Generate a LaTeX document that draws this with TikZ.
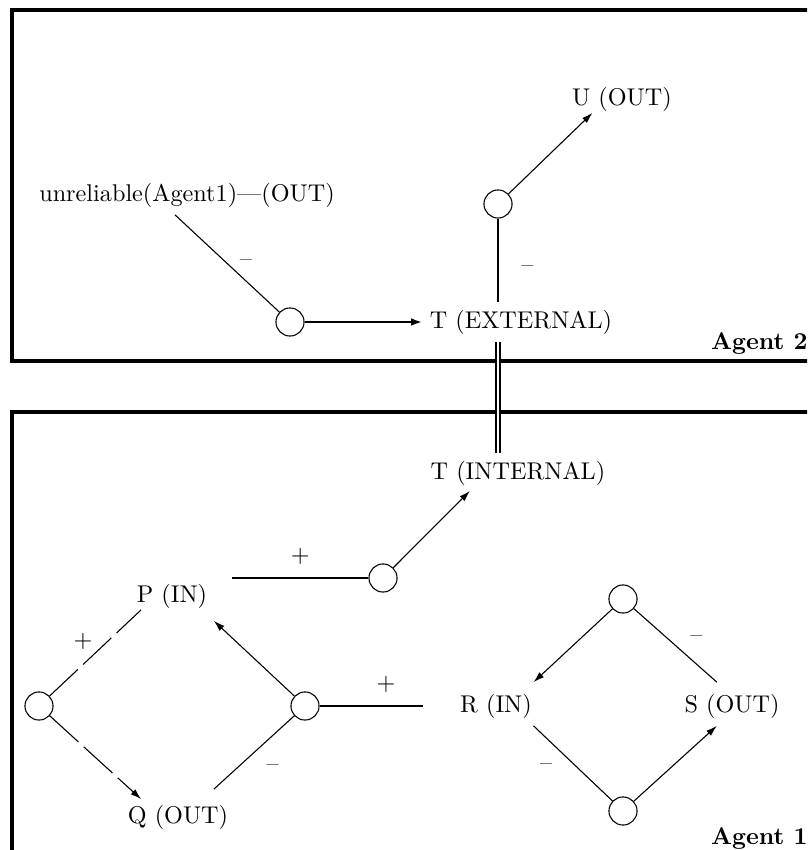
\documentclass[tikz,border=0pt]{standalone}
\usetikzlibrary{calc,arrows.meta}
\begin{document}
\begin{tikzpicture}[x=0.413pt,y=-0.413pt]
  \tikzstyle{state}=[draw,circle,minimum size=11.6pt,inner sep=0pt,line width=0.45pt];
  \tikzstyle{literal}=[inner sep=3pt];
  \tikzstyle{agent}=[font=\bfseries,anchor=south east,inner sep=0pt];
  \tikzstyle{sign}=[inner sep=1pt];
  \tikzstyle{agentbox}=[line width=2pt];
  \tikzstyle{link}=[line width=0.45pt,>={Latex[length=4.5pt,width=2.8pt]}];
  \tikzstyle{strong}=[line width=1.2pt,>={Latex[length=4.5pt,width=3.2pt]}];
  \tikzstyle{broken}=[line width=0.45pt,dash pattern=on 16pt off 3pt,>={Latex[length=4.5pt,width=2.8pt]}];
  \tikzstyle{bridge}=[double,double distance=1.1pt,line width=0.5pt];

  \useasboundingbox (0,0) rectangle (807,850);
  \clip (0,0) rectangle (807,850);

  % agents
  \draw[agentbox] (12,10) rectangle (840,361);
  \draw[agentbox] (12,412) rectangle (840,900);
  \node[agent] (ag2) at (808,355) {Agent 2};
  \node[agent] (ag1) at (808,850) {Agent 1};

  % Agent 2
  \node[literal] (unrel) at (187,195) {unreliable(Agent1)---(OUT)};
  \node[state] (c1) at (290,322) {};
  \node[literal] (tex) at (521,322) {T (EXTERNAL)};
  \node[state] (c2) at (498,204) {};
  \node[literal] (u) at (622,99) {U (OUT)};

  % Agent 1
  \node[literal] (tin) at (518,473) {T (INTERNAL)};
  \node[state] (c3) at (383,578) {};
  \coordinate (c3in) at (232,578);
  \node[literal] (p) at (172,596) {P (IN)};
  \node[literal] (q) at (178,817) {Q (OUT)};
  \node[state] (c4) at (39,706) {};
  \node[state] (c5) at (305,706) {};
  \node[literal] (r) at (496,706) {R (IN)};
  \node[literal] (s) at (732,706) {S (OUT)};
  \node[state] (c6) at (623,599) {};
  \node[state] (c7) at (623,811) {};

  % unreliable -- c1 => T (EXTERNAL)
  \draw[link] ($(unrel.south)+(-12,0)$) -- (c1) node[sign,midway,right=4pt] (m1) {--};
  \draw[strong,->] (c1) -- (tex.west);

  % c2 -- T (EXTERNAL), c2 => U
  \draw[strong] (c2) -- (c2 |- tex.north) node[sign,pos=0.6,right=8pt] (m2) {--};
  \draw[link,->] (c2) -- ($(u.south west)+(28,-6)$);

  % T (EXTERNAL) = T (INTERNAL)
  \draw[bridge] (c2 |- tex.south) -- (c2 |- tin.north);

  % c3 => T (INTERNAL)
  \draw[strong] (c3in) -- (c3) node[sign,midway,above=4pt] (m3) {$+$};
  \draw[link,->] (c3) -- ($(tin.south west)+(47,-2)$);

  % c4 : P, Q
  \draw[broken] (c4) -- ($(p.south west)+(12,-6)$) node[sign,midway,above left] (m4) {$+$};
  \draw[broken,->] (c4) -- ($(q.north west)+(21,2)$);

  % c5 : Q => P
  \draw[link,->] (c5) -- ($(p.south east)+(-1,5)$);
  \draw[link] ($(q.north east)+(-22,-8)$) -- (c5) node[sign,midway,below right=4pt] (m5) {--};
  \draw[strong] (c5) -- (r.west) [shorten >=12pt] node[sign,midway,above=4pt] (m6) {$+$};

  % c6 : S => R
  \draw[link,->] (c6) -- ($(r.north east)+(-6,-4)$);
  \draw[link] (c6) -- ($(s.north west)+(40,-4)$) node[sign,midway,above right,xshift=5pt] (m7) {--};

  % c7 : R => S
  \draw[link] ($(r.south east)+(-6,0)$) -- (c7) node[sign,pos=0.55,left=9pt] (m8) {--};
  \draw[link,->] (c7) -- ($(s.south west)+(40,0)$);
\end{tikzpicture}
\end{document}
